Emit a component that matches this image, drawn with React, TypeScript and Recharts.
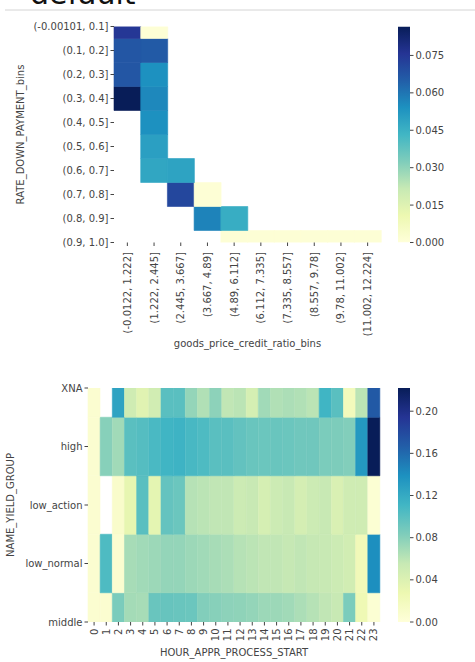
import React from 'react';
import { BarChart, Bar, XAxis, YAxis, Cell } from 'recharts';

// row / column categories
const DOWN_PAYMENT_BINS = [
  '(-0.00101, 0.1]', '(0.1, 0.2]', '(0.2, 0.3]', '(0.3, 0.4]', '(0.4, 0.5]',
  '(0.5, 0.6]', '(0.6, 0.7]', '(0.7, 0.8]', '(0.8, 0.9]', '(0.9, 1.0]',
];
const GOODS_RATIO_BINS = [
  '(-0.0122, 1.222]', '(1.222, 2.445]', '(2.445, 3.667]', '(3.667, 4.89]', '(4.89, 6.112]',
  '(6.112, 7.335]', '(7.335, 8.557]', '(8.557, 9.78]', '(9.78, 11.002]', '(11.002, 12.224]',
];
const YIELD_GROUPS = ['XNA', 'high', 'low_action', 'low_normal', 'middle'];
const HOURS = Array.from({ length: 24 }, (_, h) => String(h));

// default rate per down payment bin (one value per goods/credit ratio bin)
const dp00to01 = [0.075, 0.001, null, null, null, null, null, null, null, null];
const dp01to02 = [0.067, 0.066, null, null, null, null, null, null, null, null];
const dp02to03 = [0.067, 0.054, null, null, null, null, null, null, null, null];
const dp03to04 = [0.0866, 0.056, null, null, null, null, null, null, null, null];
const dp04to05 = [null, 0.054, null, null, null, null, null, null, null, null];
const dp05to06 = [null, 0.05, null, null, null, null, null, null, null, null];
const dp06to07 = [null, 0.048, 0.049, null, null, null, null, null, null, null];
const dp07to08 = [null, null, 0.071, 0.001, null, null, null, null, null, null];
const dp08to09 = [null, null, null, 0.057, 0.046, null, null, null, null, null];
const dp09to10 = [null, null, null, null, 0.001, 0.001, 0.001, 0.001, 0.001, 0.001];

// default rate per yield group and hour of application start
const yieldXNA = [0.006, null, 0.125, 0.05, 0.037, 0.048, 0.1, 0.1, 0.075, 0.064, 0.078, 0.058,
  0.06, 0.045, 0.07, 0.064, 0.066, 0.064, 0.06, 0.112, 0.1, 0.02, 0.06, 0.17];
const yieldHigh = [0.006, 0.08, 0.07, 0.1, 0.102, 0.107, 0.112, 0.113, 0.108, 0.105, 0.1, 0.1,
  0.096, 0.093, 0.092, 0.093, 0.092, 0.09, 0.09, 0.085, 0.084, 0.082, 0.133, 0.222];
const yieldLowAction = [0.006, null, 0.01, 0.032, 0.1, 0.034, 0.095, 0.092, 0.062, 0.06, 0.058, 0.058,
  0.052, 0.055, 0.045, 0.052, 0.055, 0.046, 0.052, 0.055, 0.042, 0.05, 0.05, 0.004];
const yieldLowNormal = [0.006, 0.105, 0.006, 0.068, 0.07, 0.072, 0.075, 0.075, 0.072, 0.07, 0.068, 0.066,
  0.062, 0.06, 0.058, 0.058, 0.056, 0.058, 0.056, 0.055, 0.052, 0.048, 0.022, 0.14];
const yieldMiddle = [0.006, 0.006, 0.085, 0.069, 0.068, 0.093, 0.094, 0.093, 0.092, 0.082, 0.08, 0.078,
  0.077, 0.075, 0.072, 0.072, 0.07, 0.066, 0.062, 0.058, 0.055, 0.085, 0.025, 0.004];

const TOP_ROWS = [dp00to01, dp01to02, dp02to03, dp03to04, dp04to05, dp05to06, dp06to07, dp07to08, dp08to09, dp09to10];
const BOTTOM_ROWS = [yieldXNA, yieldHigh, yieldLowAction, yieldLowNormal, yieldMiddle];

const TOP_CBAR_TICKS = [0, 0.015, 0.03, 0.045, 0.06, 0.075];
const BOTTOM_CBAR_TICKS = [0, 0.04, 0.08, 0.12, 0.16, 0.2];

const FONT = "'DejaVu Sans', sans-serif";
const TEXT = '#444';
const YLGNBU = ['#ffffd9', '#edf8b1', '#c7e9b4', '#7fcdbb', '#41b6c4', '#1d91c0', '#225ea8', '#253494', '#081d58'];

const hexToRgb = (h: string) => [1, 3, 5].map((i) => parseInt(h.slice(i, i + 2), 16));

function ylgnbu(t: number) {
  const c = Math.max(0, Math.min(1, t)) * (YLGNBU.length - 1);
  const i = Math.min(Math.floor(c), YLGNBU.length - 2);
  const f = c - i;
  const a = hexToRgb(YLGNBU[i]);
  const b = hexToRgb(YLGNBU[i + 1]);
  const rgb = a.map((v, k) => Math.round(v + (b[k] - v) * f));
  return `rgb(${rgb.join(',')})`;
}

const maxOf = (rows: (number | null)[][]) =>
  Math.max(...rows.flat().filter((v): v is number => v != null));

const RotatedTick = ({ x, y, payload }: any) => (
  <g transform={`translate(${x},${y})`}>
    <text transform="rotate(-90)" textAnchor="end" dominantBaseline="central" fontSize={10} fill={TEXT}>
      {payload.value}
    </text>
  </g>
);

function Heatmap({ rows, rowLabels, colLabels, width, height, margin, yAxisWidth, xAxisHeight,
  xTitle, yTitle, xTitleOffset, yTitleOffset, tickMargin }: any) {
  const n = rows.length;
  const vmax = maxOf(rows);
  const data = colLabels.map((label: string) => {
    const d: any = { label };
    rows.forEach((_: any, i: number) => { d['r' + i] = 1; });
    return d;
  });
  // stack from the bottom row upwards
  const order = rows.map((_: any, i: number) => n - 1 - i);
  const colorOf = (v: number | null) => (v == null ? 'none' : ylgnbu(v / vmax));

  return (
    <BarChart width={width} height={height} data={data} margin={margin} barCategoryGap={0} barGap={0}>
      <XAxis
        dataKey="label"
        interval={0}
        axisLine={false}
        tickSize={3.5}
        tickMargin={tickMargin}
        tickLine={{ stroke: TEXT }}
        height={xAxisHeight}
        tick={(p: any) => <RotatedTick {...p} />}
        label={{ value: xTitle, position: 'insideBottom', offset: xTitleOffset, fill: TEXT, fontSize: 10 }}
      />
      <YAxis
        type="number"
        domain={[0.5, n - 0.5]}
        allowDataOverflow
        ticks={rows.map((_: any, k: number) => k + 0.5)}
        interval={0}
        tickFormatter={(v: number) => rowLabels[n - 1 - Math.round(v - 0.5)]}
        axisLine={false}
        tickSize={3.5}
        tickLine={{ stroke: TEXT }}
        width={yAxisWidth}
        tick={{ fill: TEXT, fontSize: 10 }}
        label={{
          value: yTitle, angle: -90, position: 'insideLeft', offset: yTitleOffset,
          fill: TEXT, fontSize: 10, style: { textAnchor: 'middle' },
        }}
      />
      {order.map((i: number) => (
        <Bar key={i} dataKey={'r' + i} stackId="cells" isAnimationActive={false}>
          {rows[i].map((v: number | null, j: number) => (
            <Cell key={j} fill={colorOf(v)} stroke={colorOf(v)} strokeWidth={0.6} />
          ))}
        </Bar>
      ))}
    </BarChart>
  );
}

function ColorBar({ id, vmax, ticks, digits, height, marginTop, marginBottom }: any) {
  const data = [{ name: 'scale', v: vmax }];
  return (
    <BarChart width={80} height={height} data={data}
      margin={{ top: marginTop, right: 0, left: 8, bottom: marginBottom }} barCategoryGap={0}>
      <defs>
        <linearGradient id={id} x1="0" y1="1" x2="0" y2="0">
          {YLGNBU.map((c, i) => (
            <stop key={i} offset={i / (YLGNBU.length - 1)} stopColor={c} />
          ))}
        </linearGradient>
      </defs>
      <XAxis dataKey="name" hide />
      <YAxis
        orientation="right"
        type="number"
        domain={[0, vmax]}
        allowDataOverflow
        ticks={ticks}
        interval={0}
        tickFormatter={(v: number) => v.toFixed(digits)}
        axisLine={false}
        tickSize={3.5}
        tickLine={{ stroke: TEXT }}
        width={60}
        tick={{ fill: TEXT, fontSize: 10 }}
      />
      <Bar dataKey="v" fill={`url(#${id})`} isAnimationActive={false} />
    </BarChart>
  );
}

export default function App() {
  const topMax = maxOf(TOP_ROWS);
  const bottomMax = maxOf(BOTTOM_ROWS);
  return (
    <div style={{ position: 'absolute', left: 0, top: 0, width: 475, height: 662, overflow: 'hidden', background: '#fff', fontFamily: FONT }}>
      <svg width={475} height={14} style={{ position: 'absolute', left: 0, top: 0 }}>
        <text x={30} y={4} fontSize={30} fill="#111" fontFamily={FONT}>default</text>
        <line x1={5} y1={10} x2={475} y2={10} stroke="#d4d4d4" strokeWidth={1} />
      </svg>

      <div style={{ position: 'absolute', left: 0, top: 0 }}>
        <Heatmap
          rows={TOP_ROWS}
          rowLabels={DOWN_PAYMENT_BINS}
          colLabels={GOODS_RATIO_BINS}
          width={390}
          height={360}
          margin={{ top: 26.5, right: 9, left: 0, bottom: 0 }}
          yAxisWidth={114}
          xAxisHeight={117.5}
          tickMargin={6}
          xTitle="goods_price_credit_ratio_bins"
          yTitle="RATE_DOWN_PAYMENT_bins"
          xTitleOffset={13}
          yTitleOffset={20}
        />
      </div>
      <div style={{ position: 'absolute', left: 390, top: 0 }}>
        <ColorBar id="cbarTop" vmax={topMax} ticks={TOP_CBAR_TICKS} digits={3}
          height={360} marginTop={26.5} marginBottom={117.5} />
      </div>

      <div style={{ position: 'absolute', left: 0, top: 360 }}>
        <Heatmap
          rows={BOTTOM_ROWS}
          rowLabels={YIELD_GROUPS}
          colLabels={HOURS}
          width={390}
          height={302}
          margin={{ top: 28, right: 10, left: 0, bottom: 0 }}
          yAxisWidth={88}
          xAxisHeight={40}
          tickMargin={3}
          xTitle="HOUR_APPR_PROCESS_START"
          yTitle="NAME_YIELD_GROUP"
          xTitleOffset={6}
          yTitleOffset={10}
        />
      </div>
      <div style={{ position: 'absolute', left: 390, top: 360 }}>
        <ColorBar id="cbarBottom" vmax={bottomMax} ticks={BOTTOM_CBAR_TICKS} digits={2}
          height={302} marginTop={28} marginBottom={40} />
      </div>
    </div>
  );
}
